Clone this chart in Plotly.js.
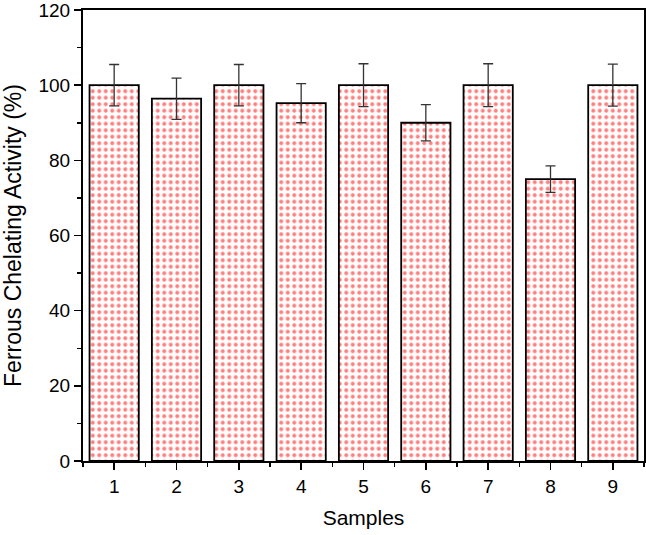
<!DOCTYPE html>
<html>
<head>
<meta charset="utf-8">
<script src="https://cdn.plot.ly/plotly-3.0.1.min.js"></script>
<style>html,body{margin:0;padding:0;background:#fff;}#chart{width:646px;height:535px;}</style>
</head>
<body>
<div id="chart"></div>
<script>
const samples = [1, 2, 3, 4, 5, 6, 7, 8, 9];
const activity = [100, 96.4, 100, 95.2, 100, 90, 100, 75, 100];
const errors = [5.5, 5.5, 5.5, 5.2, 5.7, 4.8, 5.7, 3.5, 5.6];
const yTicks = [0, 20, 40, 60, 80, 100, 120];

const trace = {
  type: 'bar',
  x: samples,
  y: activity,
  width: 0.79,
  marker: {
    color: '#ffffff',
    line: {color: '#000000', width: 1.8},
    pattern: {shape: '.', fgcolor: '#ff0000', bgcolor: '#ffffff', size: 6.5, solidity: 0.3, fillmode: 'overlay'}
  },
  error_y: {type: 'data', array: errors, visible: true, color: '#333333', thickness: 1.3, width: 5},
  hoverinfo: 'none'
};

const fontFam = 'Liberation Sans, Arial, sans-serif';
const layout = {
  width: 646, height: 535,
  margin: {l: 83, r: 2, t: 10, b: 74},
  paper_bgcolor: '#ffffff', plot_bgcolor: '#ffffff',
  showlegend: false,
  font: {family: fontFam, color: '#000000'},
  xaxis: {
    range: [0.5, 9.5],
    tickvals: samples,
    ticktext: samples.map(String),
    ticks: 'outside', ticklen: 7, tickwidth: 1.5, tickcolor: '#000',
    minor: {tick0: 0.5, dtick: 1, ticks: 'outside', ticklen: 4, tickwidth: 1.5, tickcolor: '#000', showgrid: false},
    showline: true, linecolor: '#000', linewidth: 2, mirror: true,
    showgrid: false, zeroline: false,
    ticklabeloverflow: 'allow',
    tickfont: {size: 19, family: fontFam},
    title: {text: 'Samples', font: {size: 21, family: fontFam}, standoff: 15}
  },
  yaxis: {
    range: [0, 120],
    tickvals: yTicks,
    ticks: 'outside', ticklen: 7, tickwidth: 1.5, tickcolor: '#000',
    minor: {tick0: 10, dtick: 20, ticks: 'outside', ticklen: 4, tickwidth: 1.5, tickcolor: '#000', showgrid: false},
    showline: true, linecolor: '#000', linewidth: 2, mirror: true,
    showgrid: false, zeroline: false,
    ticklabeloverflow: 'allow',
    tickfont: {size: 19, family: fontFam},
    title: {text: 'Ferrous Chelating Activity (%)', font: {size: 23, family: fontFam}, standoff: 12}
  }
};

Plotly.newPlot('chart', [trace], layout, {displayModeBar: false, staticPlot: true});
</script>
</body>
</html>
